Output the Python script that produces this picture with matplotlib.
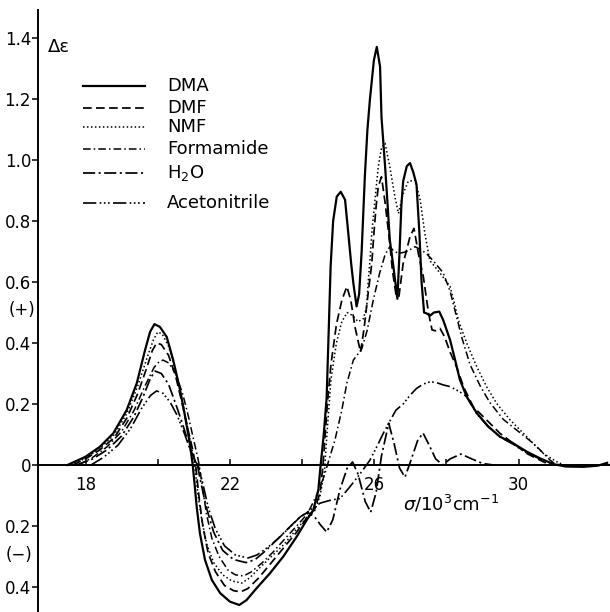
import numpy as np
import matplotlib
matplotlib.use("Agg")
import matplotlib.pyplot as plt
from matplotlib.lines import Line2D

# ---- data (sigma in 10^3 cm^-1, delta-eps) ----
DMA_X = [17.5, 18.0, 18.4, 18.77, 19.14, 19.42, 19.65, 19.79, 19.91, 20.06, 20.25, 20.43, 20.62, 20.76,
         20.89, 20.97, 21.02, 21.08, 21.17, 21.31, 21.5, 21.73, 22.0, 22.26, 22.46, 22.74, 23.11, 23.48,
         23.85, 24.13, 24.31, 24.45, 24.51, 24.6, 24.68, 24.74, 24.79, 24.86, 24.96, 25.07, 25.19, 25.28,
         25.36, 25.42, 25.51, 25.58, 25.65, 25.74, 25.81, 25.88, 25.99, 26.07, 26.16, 26.2, 26.3, 26.36,
         26.43, 26.53, 26.64, 26.7, 26.75, 26.8, 26.9, 26.99, 27.08, 27.17, 27.25, 27.31, 27.38, 27.45,
         27.55, 27.65, 27.8, 27.91, 28.1, 28.24, 28.37, 28.56, 28.84, 29.16, 29.48, 29.85, 30.22, 30.59,
         30.96, 31.3, 31.8, 32.2, 32.45]
DMA_Y = [0.0, 0.027, 0.06, 0.104, 0.18, 0.268, 0.377, 0.437, 0.462, 0.453, 0.42, 0.344, 0.246, 0.158,
         0.071, 0.0, -0.06, -0.137, -0.224, -0.311, -0.377, -0.42, -0.448, -0.459, -0.443, -0.404, -0.355, -0.3,
         -0.235, -0.18, -0.148, -0.082, -0.005, 0.1, 0.22, 0.45, 0.65, 0.8, 0.88, 0.896, 0.87, 0.76,
         0.66, 0.596, 0.52, 0.56, 0.7, 0.95, 1.1, 1.2, 1.328, 1.371, 1.306, 1.14, 0.978, 0.87,
         0.738, 0.65, 0.545, 0.7, 0.85, 0.93, 0.98, 0.99, 0.96, 0.92, 0.76, 0.6, 0.5, 0.497,
         0.49, 0.5, 0.503, 0.475, 0.41, 0.344, 0.28, 0.224, 0.17, 0.126, 0.093, 0.071, 0.044, 0.022,
         0.003, -0.005, -0.006, -0.002, 0.007]

DMF_X = [17.65, 18.0, 18.4, 18.8, 19.15, 19.45, 19.7, 19.85, 19.97, 20.1, 20.3, 20.5, 20.7, 20.85,
         20.97, 21.05, 21.15, 21.25, 21.4, 21.6, 21.85, 22.1, 22.3, 22.5, 22.8, 23.15, 23.5, 23.85,
         24.15, 24.35, 24.5, 24.58, 24.7, 24.8, 24.95, 25.1, 25.24, 25.35, 25.47, 25.62, 25.72, 25.83,
         25.93, 25.99, 26.05, 26.11, 26.2, 26.3, 26.43, 26.5, 26.6, 26.68, 26.8, 26.99, 27.1, 27.22,
         27.36, 27.5, 27.6, 27.7, 27.82, 27.95, 28.1, 28.28, 28.47, 28.74, 29.11, 29.48, 29.85, 30.22,
         30.59, 30.87]
DMF_Y = [0.0, 0.02, 0.05, 0.09, 0.155, 0.235, 0.32, 0.375, 0.40, 0.395, 0.36, 0.29, 0.19, 0.11,
         0.05, 0.0, -0.11, -0.2, -0.29, -0.35, -0.395, -0.412, -0.416, -0.405, -0.37, -0.32, -0.27, -0.22,
         -0.17, -0.145, -0.09, 0.0, 0.2, 0.33, 0.46, 0.54, 0.585, 0.54, 0.45, 0.37, 0.45, 0.563,
         0.66, 0.76, 0.847, 0.913, 0.945, 0.86, 0.727, 0.64, 0.56, 0.55, 0.661, 0.749, 0.776, 0.694,
         0.617, 0.5, 0.443, 0.44, 0.448, 0.42, 0.37, 0.322, 0.257, 0.191, 0.148, 0.104, 0.071, 0.038,
         0.016, 0.0]

NMF_X = [17.6, 18.0, 18.4, 18.8, 19.15, 19.45, 19.7, 19.88, 20.0, 20.12, 20.3, 20.5, 20.7, 20.85,
         20.95, 21.02, 21.12, 21.22, 21.36, 21.55, 21.8, 22.05, 22.33, 22.55, 22.8, 23.15, 23.5, 23.85,
         24.15, 24.35, 24.5, 24.62, 24.7, 24.8, 24.95, 25.1, 25.25, 25.4, 25.55, 25.7, 25.79, 25.83,
         25.88, 25.93, 26.02, 26.11, 26.2, 26.3, 26.43, 26.57, 26.67, 26.8, 26.94, 27.13, 27.27, 27.4,
         27.54, 27.82, 28.1, 28.2, 28.33, 28.56, 28.84, 29.11, 29.39, 29.76, 30.13, 30.4, 30.68, 31.05,
         31.25]
NMF_Y = [0.0, 0.022, 0.055, 0.1, 0.17, 0.26, 0.35, 0.41, 0.436, 0.43, 0.39, 0.31, 0.2, 0.11,
         0.05, 0.0, -0.1, -0.18, -0.26, -0.32, -0.36, -0.38, -0.387, -0.37, -0.34, -0.3, -0.26, -0.21,
         -0.17, -0.15, -0.1, -0.02, 0.12, 0.28, 0.4, 0.47, 0.5, 0.49, 0.47, 0.48, 0.52, 0.6,
         0.67, 0.76, 0.87, 0.978, 1.04, 1.055, 0.978, 0.88, 0.825, 0.89, 0.93, 0.934, 0.87, 0.76,
         0.67, 0.63, 0.585, 0.54, 0.475, 0.40, 0.322, 0.257, 0.202, 0.148, 0.104, 0.071, 0.038, 0.011,
         0.0]

FORM_X = [17.8, 18.2, 18.6, 19.0, 19.35, 19.65, 19.9, 20.05, 20.15, 20.3, 20.5, 20.7, 20.85, 21.0,
          21.1, 21.15, 21.25, 21.35, 21.5, 21.7, 21.95, 22.15, 22.38, 22.6, 22.9, 23.2, 23.5, 23.85,
          24.15, 24.4, 24.6, 24.77, 24.91, 25.1, 25.24, 25.42, 25.65, 25.8, 25.97, 26.15, 26.3, 26.43,
          26.55, 26.7, 26.9, 27.13, 27.3, 27.44, 27.63, 27.91, 28.1, 28.25, 28.42, 28.65, 28.93, 29.2,
          29.57, 29.94, 30.31, 30.59, 30.87, 31.05]
FORM_Y = [0.0, 0.025, 0.06, 0.11, 0.18, 0.26, 0.32, 0.34, 0.344, 0.335, 0.3, 0.23, 0.16, 0.08,
          0.03, 0.0, -0.08, -0.16, -0.24, -0.3, -0.345, -0.36, -0.364, -0.35, -0.32, -0.285, -0.245, -0.2,
          -0.16, -0.1, -0.04, 0.027, 0.082, 0.18, 0.268, 0.344, 0.38, 0.44, 0.54, 0.63, 0.69, 0.716,
          0.70, 0.694, 0.70, 0.716, 0.705, 0.694, 0.67, 0.63, 0.57, 0.5, 0.42, 0.33, 0.26, 0.205,
          0.15, 0.115, 0.08, 0.05, 0.016, 0.0]

H2O_X = [17.75, 18.2, 18.6, 19.0, 19.35, 19.6, 19.8, 19.93, 20.1, 20.3, 20.5, 20.7, 20.9, 21.02,
         21.1, 21.2, 21.35, 21.55, 21.8, 22.1, 22.45, 22.7, 23.0, 23.3, 23.6, 23.9, 24.15, 24.35,
         24.5, 24.68, 24.85, 25.05, 25.25, 25.4, 25.55, 25.75, 25.9, 26.05, 26.2, 26.4, 26.55, 26.7,
         26.85, 27.0, 27.2, 27.35, 27.5, 27.7, 27.9, 28.1, 28.4, 28.7, 29.0, 29.3]
H2O_Y = [0.0, 0.02, 0.05, 0.095, 0.16, 0.225, 0.285, 0.308, 0.3, 0.265, 0.2, 0.13, 0.055, 0.015,
         0.0, -0.06, -0.14, -0.22, -0.28, -0.31, -0.32, -0.31, -0.28, -0.245, -0.21, -0.175, -0.155, -0.17,
         -0.195, -0.22, -0.18, -0.08, -0.01, 0.01, -0.03, -0.12, -0.155, -0.09, 0.03, 0.137, 0.07, -0.01,
         -0.04, 0.01, 0.08, 0.105, 0.07, 0.02, 0.0, 0.02, 0.036, 0.02, 0.005, 0.0]

ACN_X = [18.15, 18.5, 18.9, 19.25, 19.55, 19.8, 19.97, 20.15, 20.35, 20.55, 20.75, 20.9, 21.05, 21.12,
         21.25, 21.4, 21.6, 21.85, 22.15, 22.5, 22.75, 23.05, 23.35, 23.65, 23.95, 24.2, 24.5, 24.8,
         25.05, 25.3, 25.6, 25.88, 26.07, 26.25, 26.4, 26.6, 26.8, 27.0, 27.17, 27.35, 27.55, 27.73,
         27.9, 28.1, 28.37, 28.56, 28.84, 29.16, 29.48, 29.85, 30.22, 30.59, 30.96, 31.2]
ACN_Y = [0.0, 0.025, 0.065, 0.12, 0.185, 0.228, 0.243, 0.235, 0.205, 0.16, 0.1, 0.05, 0.01, 0.0,
         -0.06, -0.14, -0.21, -0.265, -0.295, -0.305, -0.295, -0.27, -0.24, -0.205, -0.17, -0.15, -0.125, -0.115,
         -0.11, -0.075, -0.03, 0.016, 0.06, 0.104, 0.137, 0.18, 0.2, 0.23, 0.251, 0.265, 0.273, 0.27,
         0.263, 0.257, 0.24, 0.224, 0.168, 0.125, 0.092, 0.068, 0.04, 0.02, 0.003, 0.0]

NAMES = ['DMA', 'DMF', 'NMF', 'Formamide', 'H$_2$O', 'Acetonitrile']
SERIES = [(DMA_X, DMA_Y), (DMF_X, DMF_Y), (NMF_X, NMF_Y),
          (FORM_X, FORM_Y), (H2O_X, H2O_Y), (ACN_X, ACN_Y)]
STYLES = ['-', (0, (5, 2.5)), (0, (1, 1.6)), (0, (5, 2, 1, 2)),
          (0, (7, 2, 1.2, 2)), (0, (8, 2, 1, 1.5, 1, 1.5, 1, 2))]
WIDTHS = [1.6, 1.25, 1.1, 1.1, 1.25, 1.2]

Y_TICKS = [1.4, 1.2, 1.0, 0.8, 0.6, 0.4, 0.2, 0.0, -0.2, -0.4]
Y_LABELS = ['1.4', '1.2', '1.0', '0.8', '0.6', '0.4', '0.2', '0', '0.2', '0.4']
X_TICKS = [18, 20, 22, 24, 26, 28, 30]
X_LABELS = ['18', '', '22', '', '26', '', '30']

W, H = 610, 612
fig = plt.figure(figsize=(W / 100, H / 100), dpi=100)
ax = fig.add_axes([38 / W, 0, 572 / W, 602 / H])
ax.set_xlim(16.684, 32.53)
ax.set_ylim(-0.482, 1.492)

for (x, y), ls, lw in zip(SERIES, STYLES, WIDTHS):
    assert len(x) == len(y)
    ax.plot(x, y, color='black', ls=ls, lw=lw, solid_joinstyle='round')

for s in ['top', 'right']:
    ax.spines[s].set_visible(False)
ax.spines['bottom'].set_position(('data', 0))
ax.spines['left'].set_linewidth(1.4)
ax.spines['bottom'].set_linewidth(1.4)

ax.set_yticks(Y_TICKS)
ax.set_yticklabels(Y_LABELS)
ax.set_xticks(X_TICKS)
ax.set_xticklabels(X_LABELS)
ax.tick_params(axis='y', direction='out', length=4, width=1.1, pad=1, labelsize=12)
ax.tick_params(axis='x', direction='in', length=4, width=1.1, pad=8, labelsize=12)

ax.text(26.8, -0.148, r'$\sigma/10^{3}\mathrm{cm}^{-1}$', fontsize=13,
        ha='left', va='baseline')

# labels outside the axes, in figure pixels
def fxy(px, py):
    return px / W, 1 - py / H

fig.text(*fxy(48, 47), 'Δε', fontsize=13, ha='left', va='center')
fig.text(*fxy(22, 310), '(+)', fontsize=12, ha='center', va='center')
fig.text(*fxy(19, 555), '(−)', fontsize=12, ha='center', va='center')

# hand-drawn legend
LEG_Y = [86, 108, 127, 149, 173, 203]
for name, ls, lw, py in zip(NAMES, STYLES, WIDTHS, LEG_Y):
    x0, y0 = fxy(83, py)
    x1, _ = fxy(145, py)
    fig.add_artist(Line2D([x0, x1], [y0, y0], color='black', ls=ls, lw=lw,
                          transform=fig.transFigure))
    fig.text(*fxy(167, py), name, fontsize=13, ha='left', va='center')

fig.savefig('out.png', dpi=100)
